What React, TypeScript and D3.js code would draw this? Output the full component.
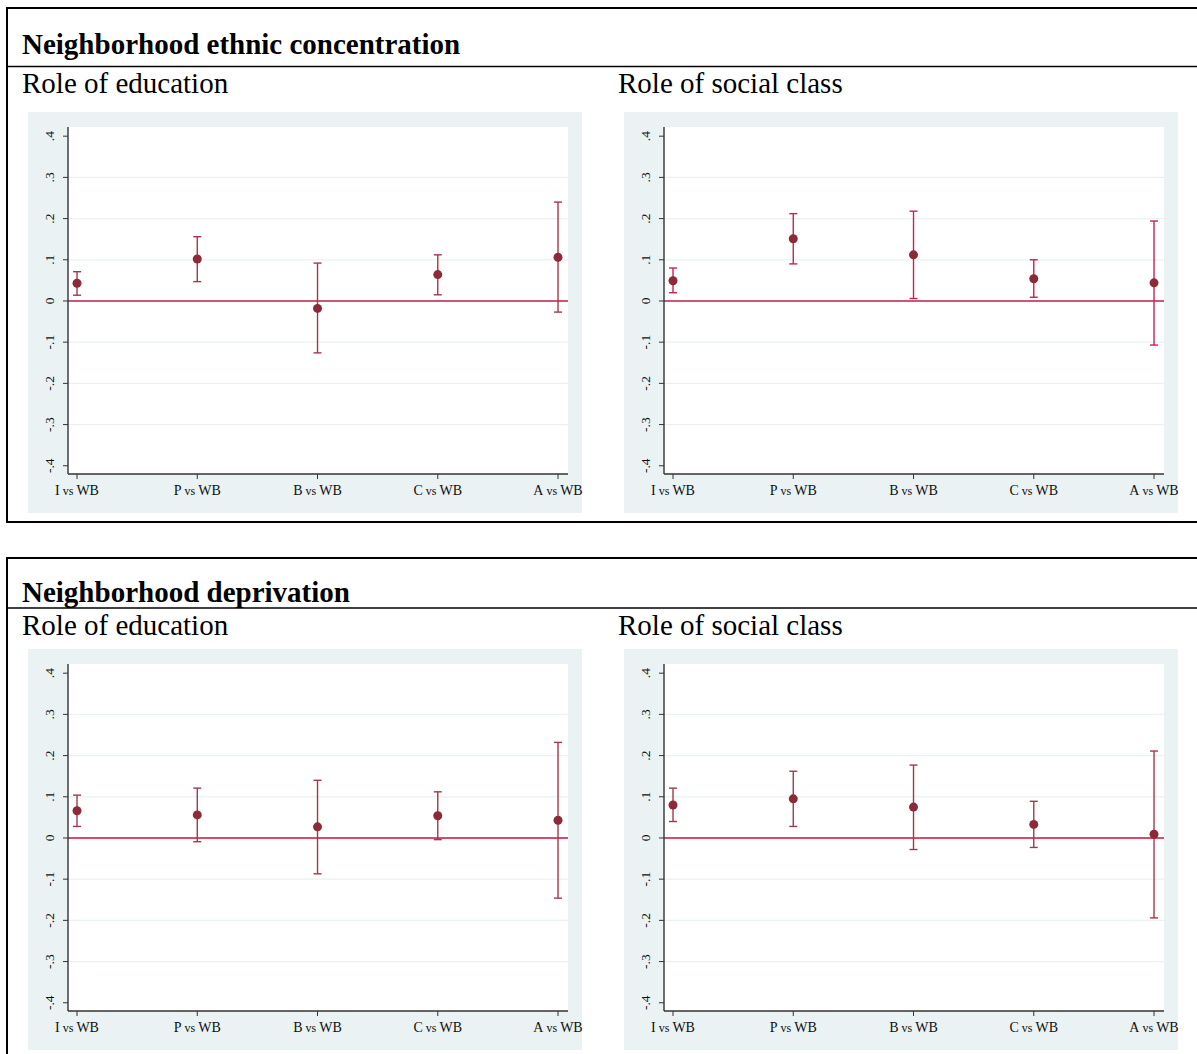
import React from "react";
import * as d3 from "d3";

const categories = ["I", "P", "B", "C", "A"];
const yTicks = [0.4, 0.3, 0.2, 0.1, 0, -0.1, -0.2, -0.3, -0.4];
const yTickLabels = [".4", ".3", ".2", ".1", "0", "-.1", "-.2", "-.3", "-.4"];

// Neighborhood ethnic concentration
const ethEduEst = [0.043, 0.102, -0.018, 0.064, 0.106];
const ethEduLo = [0.014, 0.047, -0.126, 0.015, -0.027];
const ethEduHi = [0.071, 0.156, 0.092, 0.112, 0.24];
const ethClsEst = [0.049, 0.151, 0.112, 0.054, 0.044];
const ethClsLo = [0.02, 0.09, 0.006, 0.009, -0.107];
const ethClsHi = [0.08, 0.212, 0.218, 0.1, 0.194];

// Neighborhood deprivation
const depEduEst = [0.066, 0.056, 0.027, 0.054, 0.043];
const depEduLo = [0.028, -0.009, -0.087, -0.004, -0.146];
const depEduHi = [0.104, 0.121, 0.14, 0.112, 0.232];
const depClsEst = [0.08, 0.095, 0.075, 0.033, 0.009];
const depClsLo = [0.04, 0.028, -0.028, -0.023, -0.194];
const depClsHi = [0.121, 0.162, 0.177, 0.089, 0.211];

const FONT = "'Liberation Serif', 'Times New Roman', serif";

type PanelProps = {
  dx: number;
  dy: number;
  est: number[];
  lo: number[];
  hi: number[];
  ciColor: string;
  refColor: string;
  refWidth: number;
};

function Panel({ dx, dy, est, lo, hi, ciColor, refColor, refWidth }: PanelProps) {
  const left = 68, right = 568, top = 127, bottom = 474;
  const x = d3.scaleLinear().domain([-0.075, 4.083]).range([left, right]);
  const y = d3.scaleLinear().domain([-0.42, 0.4223]).range([bottom, top]);
  const cap = 4;
  return (
    <g transform={`translate(${dx},${dy})`}>
      <rect x={28} y={112} width={554} height={401} fill="#eaf2f3" />
      <rect x={left} y={top} width={right - left} height={bottom - top} fill="#ffffff" />
      {yTicks
        .filter((t) => Math.abs(t) < 0.35 && t !== 0)
        .map((t) => (
          <line key={"g" + t} x1={left} x2={right} y1={y(t)} y2={y(t)} stroke="#eaf2f3" strokeWidth={1.2} />
        ))}
      <line x1={left} x2={right} y1={y(0)} y2={y(0)} stroke={refColor} strokeWidth={refWidth} />
      {categories.map((c, i) => (
        <g key={c}>
          <line x1={x(i)} x2={x(i)} y1={y(hi[i])} y2={y(lo[i])} stroke={ciColor} strokeWidth={1.4} />
          <line x1={x(i) - cap} x2={x(i) + cap} y1={y(hi[i])} y2={y(hi[i])} stroke={ciColor} strokeWidth={1.4} />
          <line x1={x(i) - cap} x2={x(i) + cap} y1={y(lo[i])} y2={y(lo[i])} stroke={ciColor} strokeWidth={1.4} />
          <circle cx={x(i)} cy={y(est[i])} r={4.5} fill="#8c2a38" />
        </g>
      ))}
      {/* axes */}
      <line x1={left} x2={left} y1={top} y2={bottom} stroke="#333" strokeWidth={1.4} />
      <line x1={left} x2={right} y1={bottom} y2={bottom} stroke="#333" strokeWidth={1.4} />
      {yTicks.map((t, i) => (
        <g key={"yt" + t}>
          <line x1={left - 5} x2={left} y1={y(t)} y2={y(t)} stroke="#333" strokeWidth={1} />
          <text
            transform={`translate(${left - 14},${y(t)}) rotate(-90)`}
            textAnchor="middle"
            fontFamily={FONT}
            fontSize={13.5}
            fill="#111"
          >
            {yTickLabels[i]}
          </text>
        </g>
      ))}
      {categories.map((c, i) => (
        <g key={"xt" + c}>
          <line x1={x(i)} x2={x(i)} y1={bottom} y2={bottom + 5} stroke="#333" strokeWidth={1} />
          <text x={x(i)} y={bottom + 21} textAnchor="middle" fontFamily={FONT} fontSize={14} fill="#111">
            {c}
            <tspan fontSize={12}> vs </tspan>
            WB
          </text>
        </g>
      ))}
    </g>
  );
}

export default function App() {
  return (
    <svg
      width={1197}
      height={1054}
      style={{ position: "absolute", left: 0, top: 0, background: "#fff" }}
    >
      {/* Top frame */}
      <rect x={7} y={8} width={1200} height={514} fill="none" stroke="#000" strokeWidth={2} />
      <text x={22} y={54} fontFamily={FONT} fontSize={29} fontWeight="bold" fill="#000">
        Neighborhood ethnic concentration
      </text>
      <line x1={7} x2={1197} y1={66.5} y2={66.5} stroke="#000" strokeWidth={1.5} />
      <text x={22} y={93} fontFamily={FONT} fontSize={29} fill="#000">
        Role of education
      </text>
      <text x={618} y={93} fontFamily={FONT} fontSize={29} fill="#000">
        Role of social class
      </text>
      <Panel dx={0} dy={0} est={ethEduEst} lo={ethEduLo} hi={ethEduHi} ciColor="#a3384a" refColor="#cf5577" refWidth={2} />
      <Panel dx={596} dy={0} est={ethClsEst} lo={ethClsLo} hi={ethClsHi} ciColor="#cc2050" refColor="#cf5577" refWidth={2} />

      {/* Bottom frame */}
      <rect x={7} y={558} width={1200} height={520} fill="none" stroke="#000" strokeWidth={2} />
      <text x={22} y={602} fontFamily={FONT} fontSize={29} fontWeight="bold" fill="#000">
        Neighborhood deprivation
      </text>
      <line x1={7} x2={1197} y1={608} y2={608} stroke="#000" strokeWidth={1.5} />
      <text x={22} y={635} fontFamily={FONT} fontSize={29} fill="#000">
        Role of education
      </text>
      <text x={618} y={635} fontFamily={FONT} fontSize={29} fill="#000">
        Role of social class
      </text>
      <Panel dx={0} dy={537} est={depEduEst} lo={depEduLo} hi={depEduHi} ciColor="#a3384a" refColor="#c8103e" refWidth={1.5} />
      <Panel dx={596} dy={537} est={depClsEst} lo={depClsLo} hi={depClsHi} ciColor="#a3384a" refColor="#c8103e" refWidth={1.5} />
    </svg>
  );
}
